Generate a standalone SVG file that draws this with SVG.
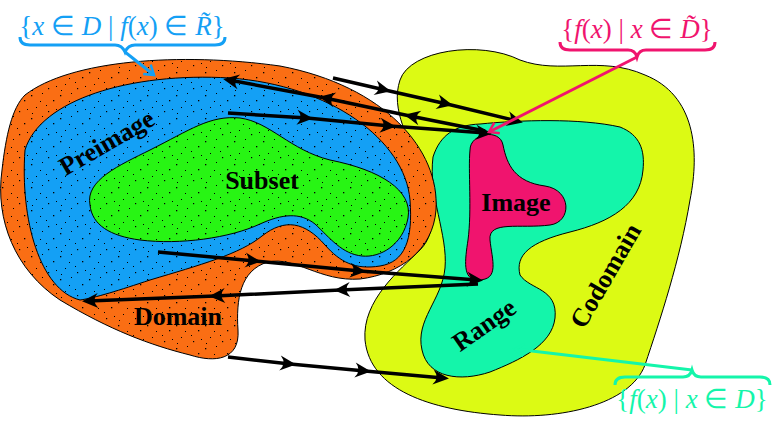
<svg xmlns="http://www.w3.org/2000/svg" width="779" height="431" viewBox="0 0 779 431">
<defs>
<pattern id="dots" width="29" height="23" patternUnits="userSpaceOnUse">
<rect x="2" y="3" width="1.3" height="1.3" fill="#000"/><rect x="13" y="1" width="1" height="1" fill="#000"/><rect x="24" y="8" width="1.3" height="1.3" fill="#000"/><rect x="7" y="15" width="1" height="1" fill="#000"/><rect x="19" y="19" width="1.2" height="1.2" fill="#000"/><rect x="11" y="9" width="1" height="1" fill="#000"/><rect x="27" y="17" width="1" height="1" fill="#000"/><rect x="3" y="21" width="1" height="1" fill="#000"/><rect x="17" y="13" width="1" height="1" fill="#000"/>
</pattern>
<marker id="ah" markerUnits="userSpaceOnUse" markerWidth="24" markerHeight="24" viewBox="-12 -12 24 24" refX="0" refY="0" orient="auto">
<path d="M-10,-7.5 Q-3,0 -10,7.5 L6,0 Z" fill="#000"/>
</marker>
<marker id="pk" markerUnits="userSpaceOnUse" markerWidth="20" markerHeight="20" viewBox="-10 -10 20 20" refX="2" refY="0" orient="auto">
<path d="M-7,-6 L2,0 L-7,6" fill="none" stroke="#f0146e" stroke-width="2.5"/>
</marker>
<marker id="tk" markerUnits="userSpaceOnUse" markerWidth="20" markerHeight="20" viewBox="-10 -10 20 20" refX="2" refY="0" orient="auto">
<path d="M-7,-6 L2,0 L-7,6" fill="none" stroke="#14f5aa" stroke-width="2.5"/>
</marker>
<marker id="bk" markerUnits="userSpaceOnUse" markerWidth="20" markerHeight="20" viewBox="-10 -10 20 20" refX="2" refY="0" orient="auto">
<path d="M-7,-6 L2,0 L-7,6" fill="none" stroke="#14a0f5" stroke-width="2.5"/>
</marker>
</defs>
<style>
.sh{stroke:#000;stroke-width:1}
.lb{font-family:"Liberation Serif",serif;font-weight:bold;font-size:26px;fill:#000;text-anchor:middle}
.mt{font-family:"Liberation Serif",serif;font-size:27px}
.mt tspan.i{font-style:italic}
.ar{fill:none;stroke:#000;stroke-width:3.5;marker-mid:url(#ah);marker-end:url(#ah)}
.br{fill:none;stroke-width:3}
</style>
<g id="codomain">
<path class="sh" fill="#dcfa14" d="M400,80 C410,50 480,40 520,60 C560,75 600,55 645,75 C695,95 700,150 690,200 C680,260 660,320 645,365 C630,405 560,420 500,415 C430,410 370,390 365,340 C362,300 400,270 420,250 C440,230 430,200 420,170 C410,140 390,110 400,80 Z"/>
</g>
<g id="range">
<path class="sh" fill="#14f5aa" d="M433,157 C440,135 455,125 480,124 C520,120 580,118 620,127 C640,135 645,150 643,170 C640,205 610,222 570,232 C530,242 515,255 520,275 C530,290 558,288 555,318 C552,345 520,360 490,372 C460,382 428,378 422,350 C415,320 442,300 445,268 C448,235 428,195 433,157 Z"/>
</g>
<g id="image">
<path class="sh" fill="#f0146e" d="M470,150 C470,133 500,128 503,145 C507,165 515,182 545,186 C572,190 572,222 550,225 C520,229 488,220 490,240 C492,260 500,280 478,280 C462,280 465,260 468,240 C472,210 468,170 470,150 Z"/>
</g>
<g id="domain">
<path class="sh" fill="#fa6e14" d="M25,95 C70,60 180,52 280,66 C385,86 440,150 436,210 C433,250 400,274 360,279 C320,282 295,256 268,262 C240,270 236,300 238,330 C240,360 215,363 190,355 C150,345 110,330 60,300 C15,270 -5,220 2,170 C6,135 12,108 25,95 Z"/>
<path fill="url(#dots)" d="M25,95 C70,60 180,52 280,66 C385,86 440,150 436,210 C433,250 400,274 360,279 C320,282 295,256 268,262 C240,270 236,300 238,330 C240,360 215,363 190,355 C150,345 110,330 60,300 C15,270 -5,220 2,170 C6,135 12,108 25,95 Z"/>
</g>
<g id="preimage">
<path class="sh" fill="#14a0f5" d="M25,150 C40,100 130,72 230,78 C330,85 405,140 410,200 C413,240 405,262 380,266 C355,270 340,262 325,245 C305,222 285,218 262,236 C240,254 200,265 150,280 C120,290 95,298 80,300 C40,290 20,220 25,150 Z"/>
<path fill="url(#dots)" d="M25,150 C40,100 130,72 230,78 C330,85 405,140 410,200 C413,240 405,262 380,266 C355,270 340,262 325,245 C305,222 285,218 262,236 C240,254 200,265 150,280 C120,290 95,298 80,300 C40,290 20,220 25,150 Z"/>
</g>
<g id="subset">
<path class="sh" fill="#28f514" d="M90,205 C85,180 120,165 150,150 C190,130 210,115 240,118 C270,122 290,150 330,160 C380,170 413,190 408,218 C403,245 380,258 362,256 C342,254 330,238 315,224 C300,212 282,214 260,224 C230,238 180,245 140,240 C110,236 92,225 90,205 Z"/>
<path fill="url(#dots)" d="M90,205 C85,180 120,165 150,150 C190,130 210,115 240,118 C270,122 290,150 330,160 C380,170 413,190 408,218 C403,245 380,258 362,256 C342,254 330,238 315,224 C300,212 282,214 260,224 C230,238 180,245 140,240 C110,236 92,225 90,205 Z"/>
</g>
<g id="labels">
<text class="lb" transform="translate(111,150) rotate(-30)">Preimage</text>
<text class="lb" x="262" y="189">Subset</text>
<text class="lb" x="516" y="211">Image</text>
<text class="lb" x="178" y="325">Domain</text>
<text class="lb" transform="translate(489,332) rotate(-35)">Range</text>
<text class="lb" transform="translate(613,280) rotate(-60)">Codomain</text>
</g>
<g id="connectors">
<polyline class="ar" points="333,78 385,90 447,104 517,121"/>
<polyline class="ar" points="485,131 410,116 325,98 229,80"/>
<polyline class="ar" points="228,113 307,118 390,126 486,133"/>
<polyline class="ar" points="158,252 255,261 360,271 477,280"/>
<polyline class="ar" points="478,284 340,290 215,296 88,301"/>
<polyline class="ar" points="228,357 290,364 365,371 443,378"/>
</g>
<g id="note-preimage">
<text class="mt" x="122" y="35" fill="#14a0f5" text-anchor="middle">{<tspan class="i">x</tspan> ∈ <tspan class="i">D</tspan> | <tspan class="i">f</tspan>(<tspan class="i">x</tspan>) ∈ <tspan class="i">R̃</tspan>}</text>
<path class="br" stroke="#14a0f5" d="M20,37 Q20,45 30,45 L115,45 Q122,45 125,52 Q128,45 135,45 L215,45 Q225,45 225,37"/>
<path class="br" stroke="#14a0f5" d="M125,52 L154,75" marker-end="url(#bk)"/>
</g>
<g id="note-image">
<text class="mt" x="637" y="38" fill="#f0146e" text-anchor="middle">{<tspan class="i">f</tspan>(<tspan class="i">x</tspan>) | <tspan class="i">x</tspan> ∈ <tspan class="i">D̃</tspan>}</text>
<path class="br" stroke="#f0146e" d="M560,42 Q560,50 570,50 L628,50 Q635,50 637,57 Q639,50 646,50 L705,50 Q715,50 715,42"/>
<path class="br" stroke="#f0146e" d="M637,57 L489,132" marker-end="url(#pk)"/>
</g>
<g id="note-range">
<text class="mt" x="692" y="408" fill="#14f5aa" text-anchor="middle">{<tspan class="i">f</tspan>(<tspan class="i">x</tspan>) | <tspan class="i">x</tspan> ∈ <tspan class="i">D</tspan>}</text>
<path class="br" stroke="#14f5aa" d="M615,385 Q615,377 625,377 L683,377 Q690,377 692,370 Q694,377 701,377 L760,377 Q770,377 770,385"/>
<path class="br" stroke="#14f5aa" d="M692,370 L515,349" marker-end="url(#tk)"/>
</g>
</svg>
